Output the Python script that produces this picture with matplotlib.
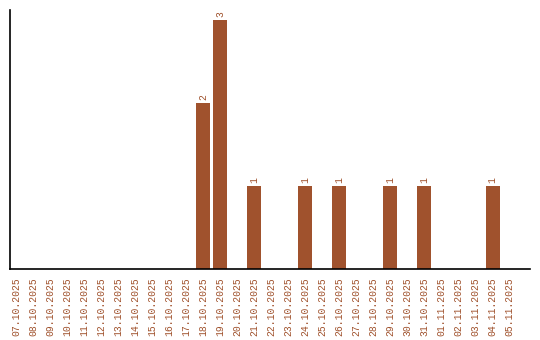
import matplotlib
matplotlib.use("Agg")
import matplotlib.pyplot as plt

dates = ["07.10.2025", "08.10.2025", "09.10.2025", "10.10.2025", "11.10.2025",
         "12.10.2025", "13.10.2025", "14.10.2025", "15.10.2025", "16.10.2025",
         "17.10.2025", "18.10.2025", "19.10.2025", "20.10.2025", "21.10.2025",
         "22.10.2025", "23.10.2025", "24.10.2025", "25.10.2025", "26.10.2025",
         "27.10.2025", "28.10.2025", "29.10.2025", "30.10.2025", "31.10.2025",
         "01.11.2025", "02.11.2025", "03.11.2025", "04.11.2025", "05.11.2025"]
counts = [0, 0, 0, 0, 0, 0, 0, 0, 0, 0,
          0, 2, 3, 0, 1, 0, 0, 1, 0, 1,
          0, 0, 1, 0, 1, 0, 0, 0, 1, 0]

color = "#A0522D"
font = "Liberation Mono"

fig = plt.figure(figsize=(5.4, 3.4), dpi=100)
ax = fig.add_axes([10/540, 71/340, 520/540, 259/340])
x = list(range(len(dates)))
bars = ax.bar(x, counts, width=0.82, color=color)
for xi, v in zip(x, counts):
    if v > 0:
        ax.text(xi, v + 0.03, str(v), rotation=90, ha="center", va="bottom",
                color=color, fontsize=7, family=font)
ax.set_xlim(-0.35, 30.2)
ax.set_ylim(0, 3.12)
ax.set_xticks(x)
ax.set_xticklabels(dates, rotation=90, color=color, fontsize=7, family=font)
ax.tick_params(axis="x", length=0, pad=6)
ax.set_yticks([])
ax.spines["top"].set_visible(False)
ax.spines["right"].set_visible(False)
ax.spines["left"].set_linewidth(1.2)
ax.spines["bottom"].set_linewidth(1.2)
fig.savefig("out.png", dpi=100)
